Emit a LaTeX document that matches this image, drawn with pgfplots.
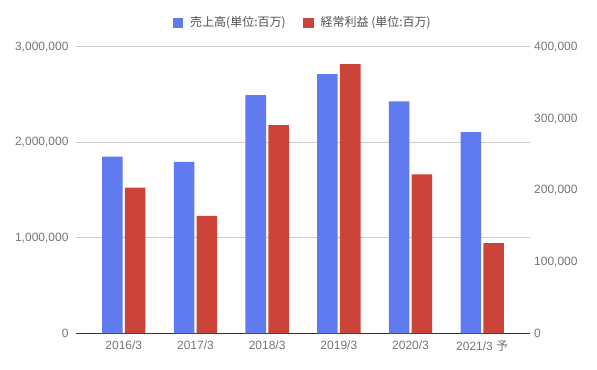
\documentclass[border=0pt]{standalone}
\usepackage{pgfplots}
\pgfplotsset{compat=1.18}
\usepackage{fontspec}
\setmainfont{Liberation Sans}
\newfontfamily\jp{Noto Sans CJK JP}
\definecolor{cblue}{RGB}{96,122,240}
\definecolor{cred}{RGB}{204,67,57}
\definecolor{ticktxt}{RGB}{117,117,117}
\definecolor{legtxt}{RGB}{80,80,80}
\definecolor{gridc}{RGB}{204,204,204}
\definecolor{basec}{RGB}{51,51,51}
\begin{document}
\begin{tikzpicture}
\path[use as bounding box] (0pt,0pt) rectangle (447.75pt,277.5pt);
\begin{axis}[
  at={(57.375pt,27.45pt)}, anchor=south west,
  scale only axis, width=339.75pt, height=214.8pt,
  xmin=-0.66, xmax=5.66, ymin=0, ymax=3000000,
  axis x line*=bottom, axis y line*=left,
  x axis line style={draw=basec, line width=0.75pt, -},
  y axis line style={draw=none},
  xtick={0,1,2,3,4,5},
  xticklabels={2016/3,2017/3,2018/3,2019/3,2020/3,{2021/3 {\jp 予}}},
  ytick={0,1000000,2000000,3000000},
  ymajorgrids, grid style={draw=gridc, line width=0.75pt},
  major tick length=0pt,
  scaled y ticks=false,
  yticklabel style={/pgf/number format/.cd, fixed, 1000 sep={,}, /tikz/.cd, xshift=-2.5pt},
  xticklabel style={yshift=-2pt},
  tick label style={font=\fontsize{9}{10}\selectfont, text=ticktxt},
  /pgf/number format/assume math mode=true,
  ybar, bar width=15.4pt, bar shift=-8.55pt,
  legend columns=2,
  legend style={draw=none, fill=none, at={(0.5,1.084)}, anchor=center,
    font=\jp\fontsize{9}{10}\selectfont, text=legtxt,
    /tikz/every even column/.append style={column sep=11pt}},
]
\addplot[fill=cblue, draw=none,
  legend image code/.code={\fill[cblue,draw=none] (0pt,-3.9pt) rectangle (7.9pt,4pt); \path[draw=none,fill=none] (7.9pt,0pt) -- (11.2pt,0pt);}]
  coordinates {(0,1851000) (1,1796000) (2,2497000) (3,2717000) (4,2431000) (5,2107000)};
\addlegendentry{売上高(単位:百万)}
\addlegendimage{legend image code/.code={\fill[cred,draw=none] (0pt,-3.9pt) rectangle (7.9pt,4pt); \path[draw=none,fill=none] (7.9pt,0pt) -- (11.2pt,0pt);}}
\addlegendentry{経常利益 (単位:百万)}
\end{axis}
\begin{axis}[
  at={(57.375pt,27.45pt)}, anchor=south west,
  scale only axis, width=339.75pt, height=214.8pt,
  xmin=-0.66, xmax=5.66, ymin=0, ymax=400000,
  axis x line=none, axis y line*=right,
  y axis line style={draw=none},
  ytick={0,100000,200000,300000,400000},
  major tick length=0pt,
  scaled y ticks=false,
  yticklabel style={/pgf/number format/.cd, fixed, 1000 sep={,}, /tikz/.cd, xshift=0pt},
  tick label style={font=\fontsize{9}{10}\selectfont, text=ticktxt},
  /pgf/number format/assume math mode=true,
  ybar, bar width=15.4pt, bar shift=8.55pt,
]
\addplot[fill=cred, draw=none]
  coordinates {(0,203500) (1,164000) (2,291000) (3,376000) (4,222000) (5,126000)};
\end{axis}
\end{tikzpicture}
\end{document}
